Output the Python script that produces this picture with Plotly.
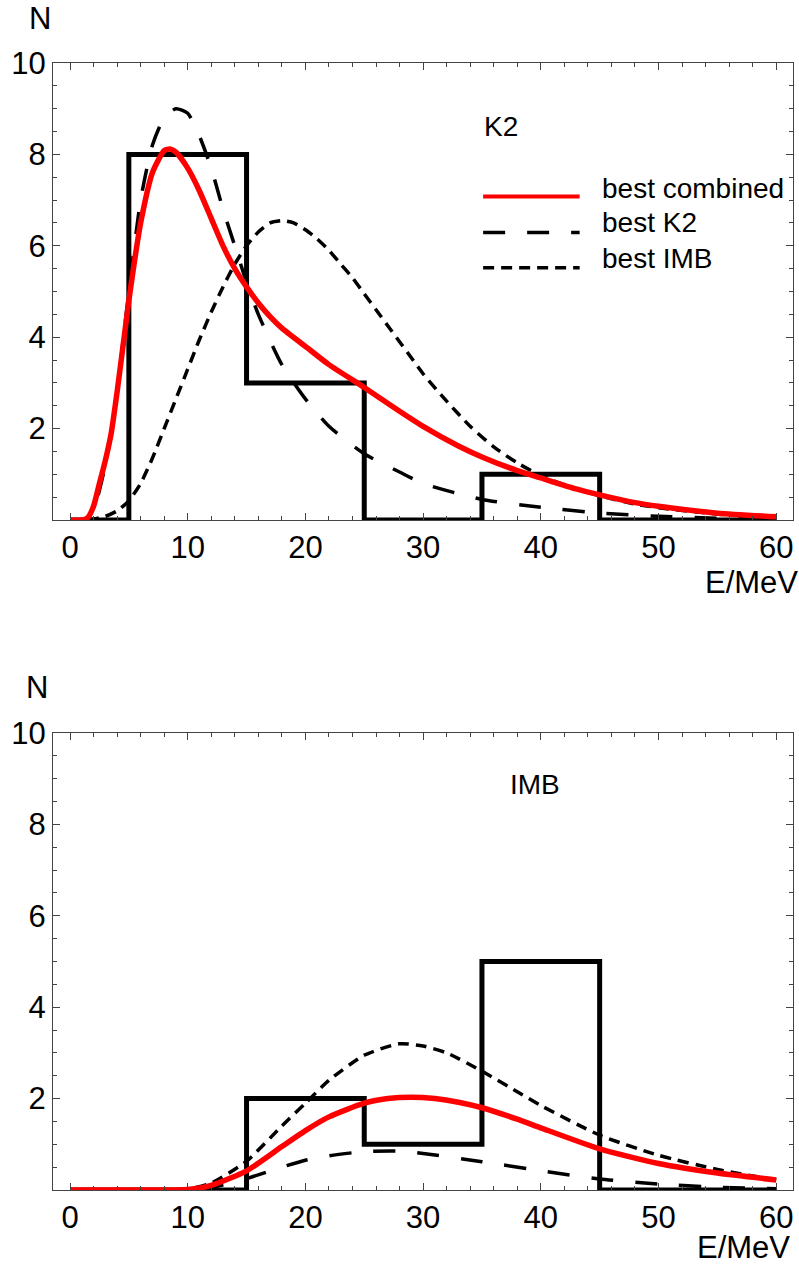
import plotly.graph_objects as go

# ---------------- data ----------------
bin_edges = [0, 5, 15, 25, 35, 45, 60]
k2_counts = [0, 8, 3, 0, 1, 0]
imb_counts = [0, 0, 2, 1, 5, 0]

# top panel (K2) curves
k2_comb_x = [0, 1, 1.5, 2, 2.5, 3, 3.5, 4, 4.5, 5, 5.5, 6, 7, 8, 8.5, 9, 10, 11, 12, 13, 14, 15, 16, 17, 18, 20, 22, 25, 28, 30, 33, 35, 38, 40, 43, 45, 48, 50, 55, 60]
k2_comb_y = [0, 0, 0.05, 0.3, 0.8, 1.3, 1.9, 2.8, 3.8, 4.8, 5.7, 6.5, 7.6, 8.08, 8.12, 8.05, 7.7, 7.2, 6.6, 6.0, 5.5, 5.1, 4.75, 4.45, 4.2, 3.8, 3.4, 2.9, 2.38, 2.05, 1.62, 1.38, 1.08, 0.92, 0.68, 0.55, 0.38, 0.3, 0.15, 0.07]

k2_k2_x = [0, 1, 1.5, 2, 2.5, 3, 3.5, 4, 4.5, 5, 6, 7, 8, 9, 10, 11, 12, 13, 14, 15, 16, 18, 20, 22, 25, 28, 30, 35, 40, 45, 50, 55, 60]
k2_k2_y = [0, 0, 0.03, 0.2, 0.65, 1.2, 1.9, 2.8, 3.9, 5.0, 7.0, 8.2, 8.8, 9.0, 8.9, 8.4, 7.7, 6.8, 6.0, 5.2, 4.5, 3.4, 2.65, 2.05, 1.45, 1.05, 0.8, 0.45, 0.28, 0.15, 0.08, 0.04, 0.02]

k2_imb_x = [0, 2, 3, 4, 5, 6, 7, 8, 9, 10, 11, 12, 13, 14, 15, 16, 17, 18, 19, 20, 21, 22, 23, 24, 25, 26, 27, 28, 29, 30, 32, 34, 36, 38, 40, 42, 45, 48, 50, 55, 60]
k2_imb_y = [0, 0.02, 0.08, 0.2, 0.42, 0.8, 1.35, 2.0, 2.65, 3.3, 3.95, 4.55, 5.1, 5.6, 6.0, 6.3, 6.5, 6.55, 6.5, 6.35, 6.15, 5.9, 5.6, 5.3, 4.95, 4.6, 4.25, 3.9, 3.55, 3.2, 2.6, 2.05, 1.6, 1.25, 0.97, 0.77, 0.53, 0.35, 0.27, 0.13, 0.06]

# bottom panel (IMB) curves
imb_comb_x = [0, 5, 10, 12, 15, 18, 20, 22, 25, 27, 29, 31, 33, 35, 38, 40, 45, 50, 55, 60]
imb_comb_y = [0, 0, 0.01, 0.1, 0.42, 0.95, 1.3, 1.6, 1.9, 2.0, 2.03, 2.0, 1.92, 1.8, 1.55, 1.36, 0.9, 0.58, 0.37, 0.22]

imb_k2_x = [0, 5, 10, 12, 15, 18, 20, 22, 25, 28, 30, 35, 40, 45, 50, 55, 60]
imb_k2_y = [0, 0, 0.01, 0.05, 0.25, 0.5, 0.65, 0.75, 0.84, 0.85, 0.8, 0.62, 0.42, 0.24, 0.13, 0.06, 0.03]

imb_imb_x = [0, 5, 10, 12, 15, 18, 20, 22, 25, 28, 30, 32, 35, 38, 40, 45, 50, 55, 60]
imb_imb_y = [0, 0, 0.02, 0.15, 0.63, 1.4, 1.9, 2.4, 2.95, 3.2, 3.15, 3.0, 2.6, 2.15, 1.85, 1.2, 0.76, 0.45, 0.22]

x_ticks = [0, 10, 20, 30, 40, 50, 60]
y_ticks = [2, 4, 6, 8, 10]
legend_labels = ["best combined", "best K2", "best IMB"]
panel_labels = ["K2", "IMB"]

# ---------------- layout helpers ----------------
W, H = 799, 1266
ML, MR, MT, MB = 53, 6, 63, 76
PW, PH = W - ML - MR, H - MT - MB


def px(xp):
    return (xp - ML) / PW


def py(yp):
    return (H - MB - yp) / PH


FONT = "Liberation Sans, Arial, sans-serif"
FS = 28
FS_AX = 31
RED = "#ff0000"
FRAME = "#444444"

fig = go.Figure()


def hist_trace(counts, ya):
    return go.Scatter(x=bin_edges, y=counts + [counts[-1]], mode="lines",
                      line=dict(color="black", width=5, shape="hv"),
                      xaxis="x" if ya == "y" else "x2", yaxis=ya, showlegend=False, hoverinfo="skip")


def curve(x, y, ya, color, width, dash):
    return go.Scatter(x=x, y=y, mode="lines", line=dict(color=color, width=width, dash=dash, shape="spline", smoothing=0.6),
                      xaxis="x" if ya == "y" else "x2", yaxis=ya, showlegend=False, hoverinfo="skip")


LONG = "22px,22px"
SHORT = "11px,7px"

for ya, counts, (cx, cy), (kx, ky), (ix, iy) in [
    ("y", k2_counts, (k2_comb_x, k2_comb_y), (k2_k2_x, k2_k2_y), (k2_imb_x, k2_imb_y)),
    ("y2", imb_counts, (imb_comb_x, imb_comb_y), (imb_k2_x, imb_k2_y), (imb_imb_x, imb_imb_y)),
]:
    fig.add_trace(hist_trace(counts, ya))
    fig.add_trace(curve(kx, ky, ya, "black", 3.5, LONG))
    fig.add_trace(curve(ix, iy, ya, "black", 3.5, SHORT))
    fig.add_trace(curve(cx, cy, ya, RED, 5.5, "solid"))

xr = [-(70 - ML) / 11.77, (W - MR - 70) / 11.77]
top_dom = [py(520), 1]
bot_dom = [0, py(733)]

axis_common = dict(showline=True, linecolor=FRAME, linewidth=1.3, mirror="allticks",
                   ticks="inside", tickcolor=FRAME, tickwidth=1.2, showgrid=False, zeroline=False,
                   tickfont=dict(family=FONT, size=FS_AX, color="black"))

xax = dict(axis_common, range=xr, tickvals=x_ticks, ticklen=7,
           minor=dict(dtick=2, tick0=0, ticklen=4, ticks="inside", tickcolor=FRAME, tickwidth=1.2, showgrid=False))
yax_minor = dict(dtick=0.5, tick0=0, ticklen=4, ticks="inside", tickcolor=FRAME, tickwidth=1.2, showgrid=False)

fig.update_layout(
    width=W, height=H, margin=dict(l=ML, r=MR, t=MT, b=MB),
    paper_bgcolor="white", plot_bgcolor="white", showlegend=False,
    xaxis=dict(xax, anchor="y"),
    xaxis2=dict(xax, anchor="y2"),
    yaxis=dict(axis_common, domain=top_dom, range=[0, 10], tickvals=y_ticks, ticklen=7, minor=yax_minor, anchor="x"),
    yaxis2=dict(axis_common, domain=bot_dom, range=[0, 10], tickvals=y_ticks, ticklen=7, minor=yax_minor, anchor="x2"),
)

ann = []
txt = dict(font=dict(family=FONT, size=FS, color="black"), showarrow=False)
txt_ax = dict(font=dict(family=FONT, size=FS_AX, color="black"), showarrow=False)
# axis labels
ann.append(dict(txt_ax, text="N", xref="paper", yref="paper", x=px(40), y=py(18), xanchor="center", yanchor="middle"))
ann.append(dict(txt_ax, text="N", xref="paper", yref="paper", x=px(37), y=py(688), xanchor="center", yanchor="middle"))
ann.append(dict(txt_ax, text="E/MeV", xref="paper", yref="paper", x=px(703), y=py(582), xanchor="left", yanchor="middle"))
ann.append(dict(txt_ax, text="E/MeV", xref="paper", yref="paper", x=px(695), y=py(1247), xanchor="left", yanchor="middle"))
# panel labels
ann.append(dict(txt, text=panel_labels[0], xref="x", yref="y", x=36.6, y=8.6, xanchor="center", yanchor="middle"))
ann.append(dict(txt, text=panel_labels[1], xref="x2", yref="y2", x=39.5, y=8.87, xanchor="center", yanchor="middle"))

# legend (top panel)
leg_x0, leg_x1, leg_tx = 35.1, 43.3, 45.0
leg_line_y = [7.08, 6.29, 5.52]
leg_text_y = [7.25, 6.5, 5.72]
leg_styles = [(RED, 4, "solid"), ("black", 3.5, LONG), ("black", 3.5, SHORT)]
for lab, ly, ty, (c, w, d) in zip(legend_labels, leg_line_y, leg_text_y, leg_styles):
    fig.add_shape(type="line", xref="x", yref="y", x0=leg_x0, x1=leg_x1, y0=ly, y1=ly,
                  line=dict(color=c, width=w, dash=d))
    ann.append(dict(txt, text=lab, xref="x", yref="y", x=leg_tx, y=ty, xanchor="left", yanchor="middle"))

fig.update_layout(annotations=ann)
fig.write_html("out.html")
